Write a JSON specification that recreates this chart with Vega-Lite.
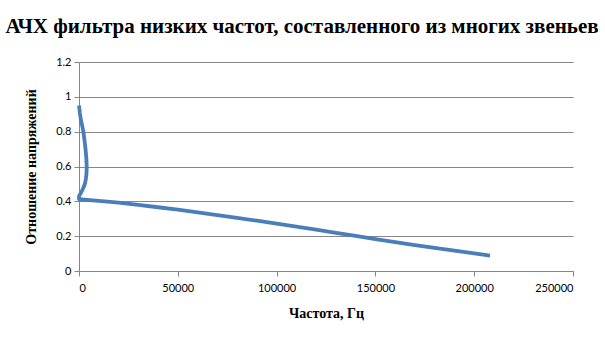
{
  "$schema": "https://vega.github.io/schema/vega-lite/v6.json",
  "width": 494,
  "height": 209,
  "autosize": "none",
  "padding": {"left": 79, "top": 62, "right": 32, "bottom": 69},
  "background": "white",
  "title": {
    "text": "АЧХ фильтра низких частот, составленного из многих звеньев",
    "font": "Liberation Serif",
    "fontSize": 21,
    "fontWeight": "bold",
    "color": "#000000",
    "anchor": "middle",
    "dx": -24,
    "offset": 19
  },
  "data": {
    "values": [
      {"i": 1, "f": 0, "k": 0.95},
      {"i": 2, "f": 400, "k": 0.91},
      {"i": 3, "f": 900, "k": 0.872},
      {"i": 4, "f": 1600, "k": 0.835},
      {"i": 5, "f": 2200, "k": 0.8},
      {"i": 6, "f": 2800, "k": 0.75},
      {"i": 7, "f": 3300, "k": 0.7},
      {"i": 8, "f": 3700, "k": 0.65},
      {"i": 9, "f": 3900, "k": 0.6},
      {"i": 10, "f": 3800, "k": 0.56},
      {"i": 11, "f": 3500, "k": 0.532},
      {"i": 12, "f": 3100, "k": 0.505},
      {"i": 13, "f": 2500, "k": 0.485},
      {"i": 14, "f": 1700, "k": 0.465},
      {"i": 15, "f": 900, "k": 0.447},
      {"i": 16, "f": 300, "k": 0.436},
      {"i": 17, "f": 0, "k": 0.43},
      {"i": 18, "f": 0, "k": 0.412},
      {"i": 19, "f": 10000, "k": 0.403},
      {"i": 20, "f": 20000, "k": 0.393},
      {"i": 21, "f": 30000, "k": 0.38},
      {"i": 22, "f": 40000, "k": 0.366},
      {"i": 23, "f": 50000, "k": 0.352},
      {"i": 24, "f": 60000, "k": 0.337},
      {"i": 25, "f": 70000, "k": 0.321},
      {"i": 26, "f": 80000, "k": 0.305},
      {"i": 27, "f": 90000, "k": 0.289},
      {"i": 28, "f": 100000, "k": 0.272},
      {"i": 29, "f": 110000, "k": 0.255},
      {"i": 30, "f": 120000, "k": 0.237},
      {"i": 31, "f": 130000, "k": 0.219},
      {"i": 32, "f": 140000, "k": 0.201},
      {"i": 33, "f": 150000, "k": 0.183},
      {"i": 34, "f": 160000, "k": 0.166},
      {"i": 35, "f": 170000, "k": 0.149},
      {"i": 36, "f": 180000, "k": 0.133},
      {"i": 37, "f": 190000, "k": 0.117},
      {"i": 38, "f": 200000, "k": 0.101},
      {"i": 39, "f": 208000, "k": 0.088}
    ]
  },
  "mark": {"type": "line", "color": "#4a7ebb", "strokeWidth": 3.8, "interpolate": "linear", "strokeJoin": "round"},
  "encoding": {
    "order": {"field": "i", "type": "quantitative"},
    "x": {
      "field": "f",
      "type": "quantitative",
      "scale": {"domain": [0, 250000], "nice": false},
      "axis": {
        "title": "Частота, Гц",
        "values": [0, 50000, 100000, 150000, 200000, 250000],
        "format": "d",
        "grid": false,
        "domainColor": "#868686",
        "tickColor": "#868686",
        "tickSize": 5,
        "labelFont": "Lato",
        "labelFontSize": 11,
        "labelColor": "#000000",
        "labelPadding": 6,
        "labelOverlap": false,
        "titleFont": "Liberation Serif",
        "titleFontSize": 14,
        "titleFontWeight": "bold",
        "titleColor": "#000000",
        "titlePadding": 13
      }
    },
    "y": {
      "field": "k",
      "type": "quantitative",
      "scale": {"domain": [0, 1.2], "nice": false},
      "axis": {
        "title": "Отношение напряжений",
        "values": [0, 0.2, 0.4, 0.6, 0.8, 1, 1.2],
        "format": "~g",
        "grid": true,
        "gridColor": "#868686",
        "domainColor": "#868686",
        "tickColor": "#868686",
        "tickSize": 5,
        "labelFont": "Lato",
        "labelFontSize": 11,
        "labelColor": "#000000",
        "labelPadding": 3,
        "titleFont": "Liberation Serif",
        "titleFontSize": 14,
        "titleFontWeight": "bold",
        "titleColor": "#000000",
        "titlePadding": 17
      }
    }
  },
  "config": {"view": {"stroke": null}}
}
